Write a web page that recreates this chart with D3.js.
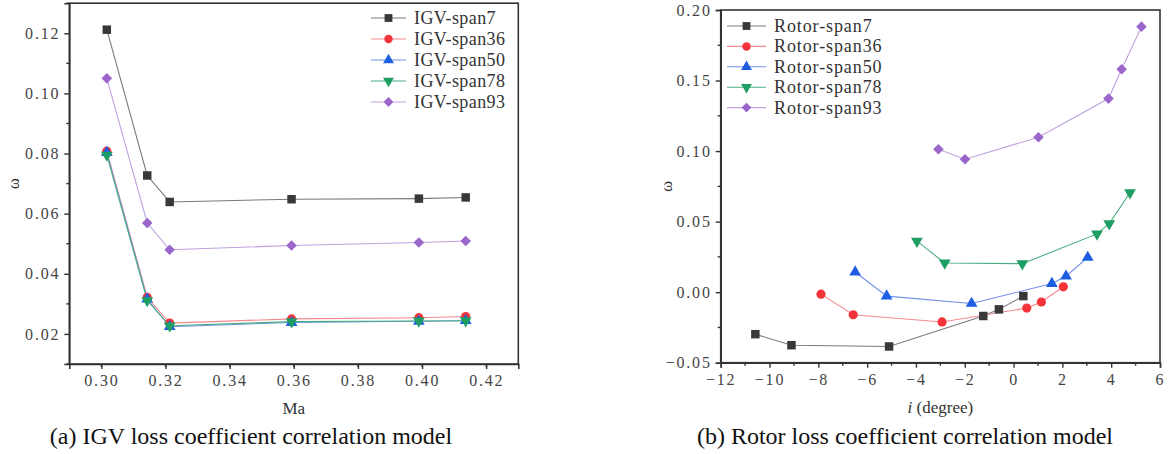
<!DOCTYPE html>
<html>
<head>
<meta charset="utf-8">
<script src="https://cdn.jsdelivr.net/npm/d3@7"></script>
<style>
  body { margin: 0; background: #fff; }
</style>
</head>
<body>
<div id="chart"></div>
<script>
// IGV panel (a)
const igvMa = [0.3017, 0.3143, 0.3213, 0.3593, 0.3990, 0.4136];
const igvSpan7 = [0.1212, 0.0727, 0.0639, 0.0648, 0.0650, 0.0654];
const igvSpan36 = [0.0808, 0.0322, 0.0236, 0.0250, 0.0254, 0.0258];
const igvSpan50 = [0.0803, 0.0316, 0.0224, 0.0238, 0.0242, 0.0244];
const igvSpan78 = [0.0795, 0.0311, 0.0227, 0.0241, 0.0243, 0.0244];
const igvSpan93 = [0.1050, 0.0569, 0.0480, 0.0494, 0.0504, 0.0509];
const igvNames = ['IGV-span7', 'IGV-span36', 'IGV-span50', 'IGV-span78', 'IGV-span93'];
const igvXTicks = [0.30, 0.32, 0.34, 0.36, 0.38, 0.40, 0.42];
const igvYTicks = [0.02, 0.04, 0.06, 0.08, 0.10, 0.12];

// Rotor panel (b)
const rotorSpan7I = [-10.58, -9.10, -5.10, -1.24, -0.60, 0.40];
const rotorSpan7W = [-0.0298, -0.0376, -0.0385, -0.0169, -0.0122, -0.0028];
const rotorSpan36I = [-7.89, -6.57, -2.93, 0.54, 1.14, 2.04];
const rotorSpan36W = [-0.0014, -0.0160, -0.0211, -0.0113, -0.0070, 0.0038];
const rotorSpan50I = [-6.49, -5.20, -1.72, 1.57, 2.15, 3.04];
const rotorSpan50W = [0.0143, -0.0028, -0.0080, 0.0061, 0.0113, 0.0246];
const rotorSpan78I = [-3.96, -2.82, 0.36, 3.42, 3.92, 4.77];
const rotorSpan78W = [0.0362, 0.0207, 0.0202, 0.0413, 0.0486, 0.0705];
const rotorSpan93I = [-3.08, -1.99, 1.02, 3.89, 4.43, 5.24];
const rotorSpan93W = [0.1013, 0.0942, 0.1098, 0.1372, 0.1580, 0.1882];
const rotorNames = ['Rotor-span7', 'Rotor-span36', 'Rotor-span50', 'Rotor-span78', 'Rotor-span93'];
const rotorXTicks = [-12, -10, -8, -6, -4, -2, 0, 2, 4, 6];
const rotorYTicks = [-0.05, 0.00, 0.05, 0.10, 0.15, 0.20];

const SERIF = '"Liberation Serif", "Times New Roman", "DejaVu Serif", serif';

// marker + line styles shared by both panels
const markerColors = ['#383838', '#f5333a', '#1d5fe0', '#1f9e63', '#9a66cc'];
const lineColors = ['#7a7a7a', '#f58a8f', '#6f8fe8', '#4aae80', '#bfa2de'];
const shapes = [d3.symbolSquare, d3.symbolCircle, d3.symbolTriangle, d3.symbolTriangle, d3.symbolSquare];
const shapeSizes = [72, 66, 60, 60, 56];
const shapeRotate = [0, 0, 0, 180, 45];

const svg = d3.select('#chart').append('svg')
  .attr('width', 1172)
  .attr('height', 454);

svg.append('rect').attr('width', 1172).attr('height', 454).attr('fill', '#fff');

function drawPanel(cfg) {
  const x = d3.scaleLinear().domain(cfg.xDomain).range(cfg.xRange);
  const y = d3.scaleLinear().domain(cfg.yDomain).range(cfg.yRange);
  const g = svg.append('g');

  // frame (top + right)
  g.append('rect')
    .attr('x', cfg.xRange[0]).attr('y', cfg.yRange[1])
    .attr('width', cfg.xRange[1] - cfg.xRange[0])
    .attr('height', cfg.yRange[0] - cfg.yRange[1])
    .attr('fill', 'none').attr('stroke', '#333').attr('stroke-width', 1.6);

  // minor ticks
  const xStep = cfg.xTicks[1] - cfg.xTicks[0];
  const yStep = cfg.yTicks[1] - cfg.yTicks[0];
  const xMinor = d3.range(cfg.xDomain[0] + xStep / 2, cfg.xDomain[1] + 1e-9, xStep);
  const yMinor = d3.range(cfg.yTicks[0] - yStep / 2, cfg.yDomain[1] + 1e-9, yStep)
    .filter(v => v > cfg.yDomain[0] - 1e-9);

  const xAxis = g.append('g')
    .attr('transform', `translate(0,${cfg.yRange[0]})`)
    .call(d3.axisBottom(x).tickValues(cfg.xTicks).tickSize(5).tickPadding(6)
      .tickFormat(cfg.xFormat));
  xAxis.append('g').selectAll('line').data(xMinor).enter().append('line')
    .attr('x1', d => x(d)).attr('x2', d => x(d)).attr('y1', 0).attr('y2', 3)
    .attr('stroke', '#333').attr('stroke-width', 1.4);

  const yAxis = g.append('g')
    .attr('transform', `translate(${cfg.xRange[0]},0)`)
    .call(d3.axisLeft(y).tickValues(cfg.yTicks).tickSize(5).tickPadding(4)
      .tickFormat(d3.format('.2f')));
  yAxis.append('g').selectAll('line').data(yMinor).enter().append('line')
    .attr('y1', d => y(d)).attr('y2', d => y(d)).attr('x1', 0).attr('x2', -3)
    .attr('stroke', '#333').attr('stroke-width', 1.4);

  [xAxis, yAxis].forEach(a => {
    a.attr('font-family', null);
    a.select('.domain').attr('stroke', '#333').attr('stroke-width', 1.6);
    a.selectAll('.tick line').attr('stroke', '#333').attr('stroke-width', 1.4);
    a.selectAll('.tick text')
      .style('font-family', SERIF)
      .style('font-size', '16px')
      .style('letter-spacing', '1.8px')
      .attr('fill', '#444');
  });

  // series
  const line = d3.line().x(d => x(d[0])).y(d => y(d[1]));
  cfg.series.forEach((s, i) => {
    const pts = s.xs.map((v, k) => [v, s.ys[k]]);
    g.append('path').datum(pts)
      .attr('d', line).attr('fill', 'none')
      .attr('stroke', lineColors[i]).attr('stroke-width', 1.1);
  });
  cfg.series.forEach((s, i) => {
    const pts = s.xs.map((v, k) => [v, s.ys[k]]);
    g.selectAll(null).data(pts).enter().append('path')
      .attr('d', d3.symbol().type(shapes[i]).size(shapeSizes[i]))
      .attr('transform', d => `translate(${x(d[0])},${y(d[1])}) rotate(${shapeRotate[i]})`)
      .attr('fill', markerColors[i]);
  });

  // legend
  cfg.names.forEach((name, i) => {
    const ly = cfg.legend.y + i * cfg.legend.step;
    const lx = cfg.legend.x;
    g.append('line')
      .attr('x1', lx).attr('x2', lx + cfg.legend.len)
      .attr('y1', ly).attr('y2', ly)
      .attr('stroke', lineColors[i]).attr('stroke-width', 1.1);
    g.append('path')
      .attr('d', d3.symbol().type(shapes[i]).size(shapeSizes[i] * 0.85))
      .attr('transform', `translate(${lx + cfg.legend.len / 2},${ly}) rotate(${shapeRotate[i]})`)
      .attr('fill', markerColors[i]);
    g.append('text')
      .attr('x', lx + cfg.legend.len + 8).attr('y', ly + 6)
      .style('font-family', SERIF)
      .style('font-size', '18px')
      .style('letter-spacing', cfg.legend.spacing)
      .attr('fill', '#333')
      .text(name);
  });

  // axis titles
  g.append('text')
    .attr('transform', `translate(${cfg.yLabelX},${(cfg.yRange[0] + cfg.yRange[1]) / 2}) rotate(-90)`)
    .attr('text-anchor', 'middle')
    .style('font-family', SERIF)
    .style('font-size', '17px')
    .attr('fill', '#333')
    .text('ω');

  const xt = g.append('text')
    .attr('x', (cfg.xRange[0] + cfg.xRange[1]) / 2)
    .attr('y', cfg.yRange[0] + 50)
    .attr('text-anchor', 'middle')
    .style('font-family', SERIF)
    .style('font-size', '17px')
    .attr('fill', '#333');
  cfg.xTitle(xt);

  // caption
  svg.append('text')
    .attr('x', cfg.captionX).attr('y', 444)
    .attr('text-anchor', 'middle')
    .style('font-family', SERIF)
    .style('font-size', '24px')
    .attr('fill', '#111')
    .text(cfg.caption);
}

drawPanel({
  xDomain: [0.29, 0.43], xRange: [69.3, 518.3],
  yDomain: [0.01, 0.13], yRange: [364, 3.2],
  xTicks: igvXTicks, yTicks: igvYTicks,
  xFormat: d3.format('.2f'),
  series: [
    { xs: igvMa, ys: igvSpan7 },
    { xs: igvMa, ys: igvSpan36 },
    { xs: igvMa, ys: igvSpan50 },
    { xs: igvMa, ys: igvSpan78 },
    { xs: igvMa, ys: igvSpan93 }
  ],
  names: igvNames,
  legend: { x: 371, y: 18, step: 21, len: 35, spacing: '0.4px' },
  yLabelX: 19,
  xTitle: t => t.text('Ma'),
  caption: '(a) IGV loss coefficient correlation model',
  captionX: 251
});

drawPanel({
  xDomain: [-12, 6], xRange: [720.7, 1160],
  yDomain: [-0.05, 0.20], yRange: [362.7, 10],
  xTicks: rotorXTicks, yTicks: rotorYTicks,
  xFormat: d3.format('d'),
  series: [
    { xs: rotorSpan7I, ys: rotorSpan7W },
    { xs: rotorSpan36I, ys: rotorSpan36W },
    { xs: rotorSpan50I, ys: rotorSpan50W },
    { xs: rotorSpan78I, ys: rotorSpan78W },
    { xs: rotorSpan93I, ys: rotorSpan93W }
  ],
  names: rotorNames,
  legend: { x: 727, y: 26, step: 20.4, len: 39, spacing: '0.9px' },
  yLabelX: 672,
  xTitle: t => {
    t.append('tspan').style('font-style', 'italic').text('i');
    t.append('tspan').text(' (degree)');
  },
  caption: '(b) Rotor loss coefficient correlation model',
  captionX: 905
});
</script>
</body>
</html>
